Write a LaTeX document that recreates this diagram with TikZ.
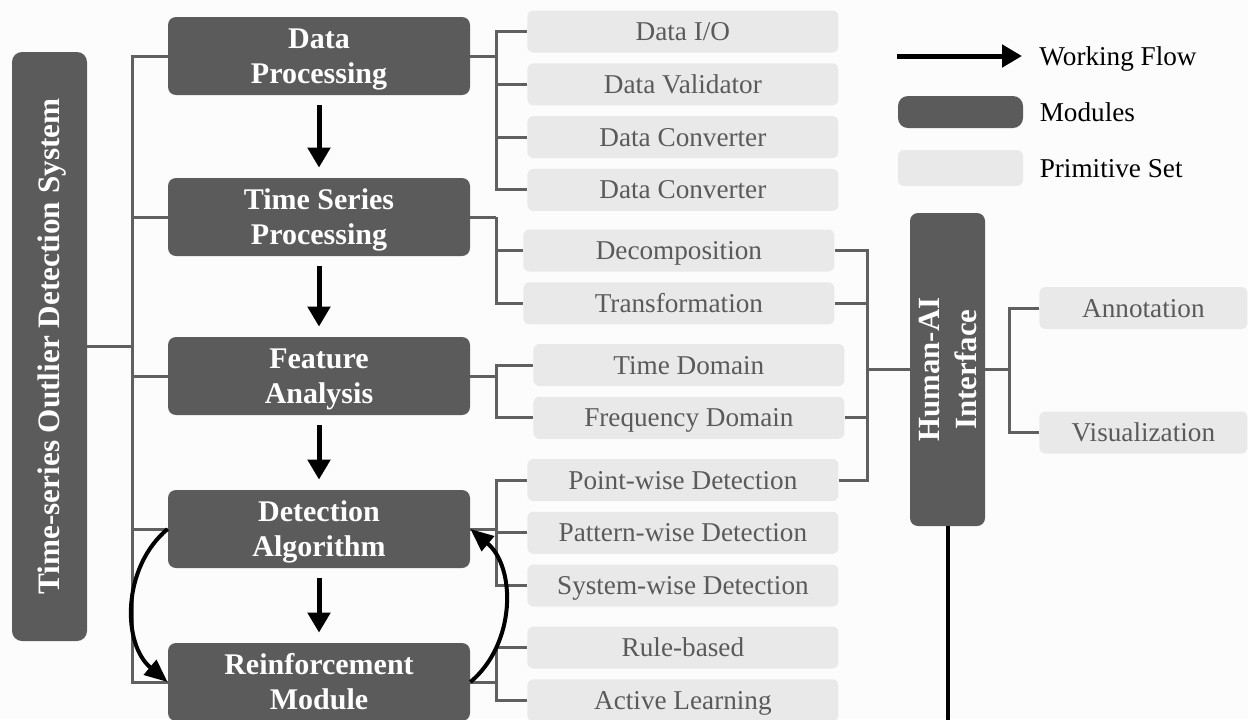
\documentclass[tikz,border=0pt]{standalone}
\usepackage{fontspec}
\setmainfont{Liberation Serif}
\usetikzlibrary{arrows.meta, positioning}
\definecolor{modgray}{HTML}{5B5B5B}
\definecolor{primgray}{HTML}{E8E9E8}
\definecolor{primtext}{HTML}{5A5A5A}
\definecolor{linkgray}{HTML}{606060}
\definecolor{bggray}{HTML}{FCFCFC}
\tikzstyle{module} = [rectangle, rounded corners=4pt, fill=modgray, text=white, font=\fontsize{15}{17.5}\selectfont\bfseries, align=center, minimum width=151pt, minimum height=39pt, text height=27.4pt, text depth=0pt, inner sep=0pt]
\tikzstyle{sysbox} = [rectangle, rounded corners=5pt, fill=modgray, text=white, font=\fontsize{15.6}{18}\selectfont\bfseries, minimum width=294.5pt, minimum height=37.5pt, text height=10.3pt, text depth=0pt, inner sep=0pt]
\tikzstyle{prim} = [rectangle, rounded corners=3pt, fill=primgray, text=primtext, font=\fontsize{13.6}{16}\selectfont, minimum width=155.5pt, minimum height=21pt, text height=9pt, text depth=0pt, inner sep=0pt]
\tikzstyle{legtext} = [font=\fontsize{13.6}{16}\selectfont, text height=9pt, text depth=0pt, inner sep=0pt]
\tikzstyle{link} = [draw=linkgray, line width=1.5pt]
\tikzstyle{flow} = [line width=2.5pt, -{Triangle[length=10pt,width=11pt]}]
\tikzstyle{loopflow} = [line width=2pt, -{Triangle[length=11.5pt,width=9.5pt]}]

\begin{document}
\begin{tikzpicture}[x=0.5pt, y=-0.5pt]
        \path[use as bounding box, fill=bggray] (0,0) rectangle (1248,719);
        \clip (0,0) rectangle (1248,719);
        \coordinate (trunk) at (132,0);
        \coordinate (busl) at (496,0);
        \coordinate (busr) at (867,0);
        \coordinate (bushai) at (1009,0);
        \coordinate (floor) at (0,730);

        \node[sysbox, rotate=90] (sys) at (49.5,346.5) {Time-series Outlier Detection System};
        \node[module] (dp) at (319,56) {Data\\Processing};
        \node[module] (ts) at (319,217) {Time Series\\Processing};
        \node[module] (fa) at (319,376) {Feature\\Analysis};
        \node[module] (da) at (319,529) {Detection\\Algorithm};
        \node[module] (rm) at (319,682) {Reinforcement\\Module};
        \node[module, rotate=90, minimum width=156.5pt, minimum height=37.5pt, font=\fontsize{15.4}{18.5}\selectfont\bfseries, text height=28.7pt] (hai) at (947.5,369.5) {Human-AI\\Interface};

        \node[prim, anchor=west] (dio) at (527,31.5) {Data I/O};
        \node[prim, below=5pt of dio] (dval) {Data Validator};
        \node[prim, below=5pt of dval] (dcv1) {Data Converter};
        \node[prim, below=5pt of dcv1] (dcv2) {Data Converter};
        \node[prim, anchor=west] (dec) at (523,250.5) {Decomposition};
        \node[prim, below=5pt of dec] (trans) {Transformation};
        \node[prim, anchor=west] (tdom) at (533,365) {Time Domain};
        \node[prim, below=5pt of tdom] (fdom) {Frequency Domain};
        \node[prim, anchor=west] (pwd) at (527,480) {Point-wise Detection};
        \node[prim, below=5pt of pwd] (pawd) {Pattern-wise Detection};
        \node[prim, below=5pt of pawd] (swd) {System-wise Detection};
        \node[prim, anchor=west] (rule) at (527,647.5) {Rule-based};
        \node[prim, below=5pt of rule] (actl) {Active Learning};
        \node[prim, anchor=west, minimum width=104pt] (ann) at (1039,308) {Annotation};
        \node[prim, anchor=west, minimum width=104pt] (vis) at (1039,432.5) {Visualization};

        \draw[link] (sys.south) -- (sys.south -| trunk);
        \draw[link] (dp.west) -- (dp.west -| trunk) -- (rm.west -| trunk) -- (rm.west);
        \foreach \m in {ts, fa, da}
            \draw[link] (\m.west) -- (\m.west -| trunk);

        \foreach \m in {dp, ts, fa, da, rm}
            \draw[link] (\m.east) -- (\m.east -| busl);
        \draw[link] (dio.west) -- (dio.west -| busl) -- (dcv2.west -| busl) -- (dcv2.west);
        \draw[link] (ts.east -| busl) -- (trans.west -| busl) -- (trans.west);
        \draw[link] (tdom.west) -- (tdom.west -| busl) -- (fdom.west -| busl) -- (fdom.west);
        \draw[link] (pwd.west) -- (pwd.west -| busl) -- (swd.west -| busl) -- (swd.west);
        \draw[link] (rule.west) -- (rule.west -| busl) -- (actl.west -| busl) -- (actl.west);
        \foreach \p in {dval, dcv1, dec, pawd}
            \draw[link] (\p.west) -- (\p.west -| busl);

        \draw[link] (dec.east) -- (dec.east -| busr) -- (pwd.east -| busr) -- (pwd.east);
        \foreach \p in {trans, fdom}
            \draw[link] (\p.east) -- (\p.east -| busr);
        \draw[link] (hai.north) -- (hai.north -| busr);
        \draw[link] (hai.south) -- (hai.south -| bushai);
        \draw[link] (ann.west) -- (ann.west -| bushai) -- (vis.west -| bushai) -- (vis.west);
        \draw[line width=2pt] (hai.west) -- (hai.west |- floor);

        \draw[flow, shorten <=5pt, shorten >=5pt] (dp) -- (ts);
        \draw[flow, shorten <=5pt, shorten >=5pt] (ts) -- (fa);
        \draw[flow, shorten <=5pt, shorten >=5pt] (fa) -- (da);
        \draw[flow, shorten <=5pt, shorten >=5pt] (da) -- (rm);
        \draw[loopflow] (da.west) to[bend right=50] (rm.west);
        \draw[loopflow] (rm.east) to[bend right=50] (da.east);

        \coordinate (lgs) at (897,56);
        \coordinate (lge) at (1022,56);
        \draw[flow] (lgs) -- (lge);
        \node[legtext, right=8.5pt of lge] (lgflowtxt) {Working Flow};
        \node[rectangle, rounded corners=5pt, fill=modgray, minimum width=62.5pt, minimum height=16pt] (lgmod) at (960.5,112) {};
        \node[legtext, right=8pt of lgmod] (lgmodtxt) {Modules};
        \node[prim, minimum width=62.5pt, minimum height=18pt] (lgprim) at (960.5,168) {};
        \node[legtext, right=8pt of lgprim] (lgprimtxt) {Primitive Set};
    \end{tikzpicture}
\end{document}
